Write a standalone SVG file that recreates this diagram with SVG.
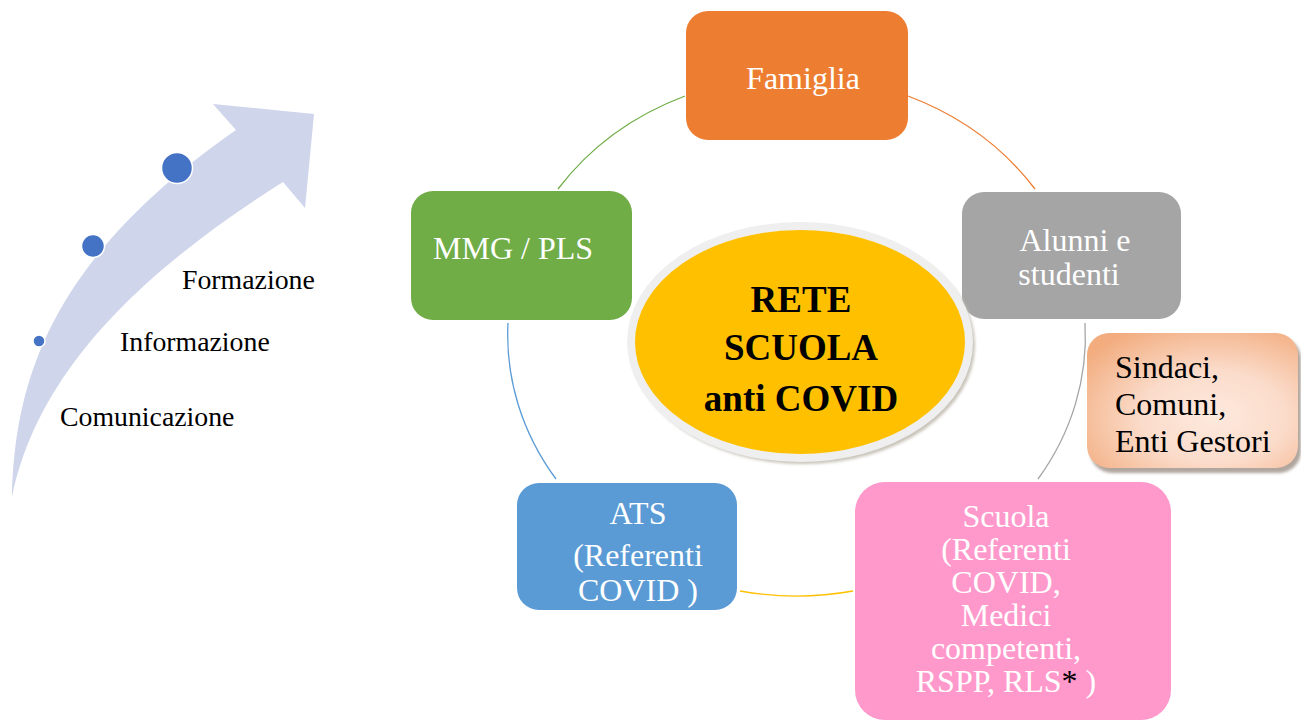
<svg xmlns="http://www.w3.org/2000/svg" width="1301" height="720" viewBox="0 0 1301 720">
<defs>
<radialGradient id="peach" cx="0.6" cy="0.62" r="0.75">
<stop offset="0" stop-color="#fde9dd"/>
<stop offset="0.45" stop-color="#fbdccb"/>
<stop offset="1" stop-color="#f2ac7e"/>
</radialGradient>
<filter id="blur" x="-10%" y="-10%" width="120%" height="120%"><feGaussianBlur stdDeviation="1.5"/></filter>
</defs>
<style>
.t{font-family:"Liberation Serif","Times New Roman",serif;font-size:32px;fill:#ffffff}
.lt{font-family:"Liberation Serif","Times New Roman",serif;font-size:27.8px;fill:#000000}
.c{text-anchor:middle}
.arc{fill:none;stroke-width:1.3}
</style>
<rect width="1301" height="720" fill="#ffffff"/>

<g id="growth-arrow">
<path d="M 12 497 C 15 380 50 260 236 130 L 213 104 L 314 114 L 305 208 L 283 182 C 160 260 40 360 12 497 Z" fill="#cfd5ea"/>
<circle cx="177" cy="168" r="15.5" fill="#4472c4" stroke="#ffffff" stroke-width="1.5"/>
<circle cx="93" cy="246" r="11.5" fill="#4472c4" stroke="#ffffff" stroke-width="1.5"/>
<circle cx="39" cy="341" r="6" fill="#4472c4" stroke="#ffffff" stroke-width="1.5"/>
<text class="lt" x="182" y="289">Formazione</text>
<text class="lt" x="120" y="351">Informazione</text>
<text class="lt" x="60" y="426">Comunicazione</text>
</g>

<g id="connectors">
<path class="arc" stroke="#ed7d31" d="M 908 96 A 289 260 0 0 1 1035 189"/>
<path class="arc" stroke="#a5a5a5" d="M 1085 323 A 289 260 0 0 1 1038 479"/>
<path class="arc" stroke="#ffc000" d="M 853 591 A 289 260 0 0 1 740 591"/>
<path class="arc" stroke="#5b9bd5" d="M 556 479 A 289 260 0 0 1 508 323"/>
<path class="arc" stroke="#70ad47" d="M 558 189 A 289 260 0 0 1 685 96"/>
</g>

<g id="node-famiglia">
<rect x="686" y="11" width="222" height="129" rx="22" fill="#ed7d31"/>
<text class="t c" x="803" y="89">Famiglia</text>
</g>

<g id="node-mmg">
<rect x="411" y="191" width="221" height="129" rx="22" fill="#70ad47"/>
<text class="t" x="433" y="259">MMG / PLS</text>
</g>

<g id="node-alunni">
<rect x="962" y="192" width="219" height="127" rx="22" fill="#a5a5a5"/>
<text class="t c" x="1075" y="251">Alunni e</text>
<text class="t c" x="1069" y="285">studenti</text>
</g>

<g id="node-ats">
<rect x="517" y="483" width="220" height="127" rx="22" fill="#5b9bd5"/>
<text class="t c" x="638" y="524">ATS</text>
<text class="t c" x="638" y="566">(Referenti</text>
<text class="t c" x="638" y="601">COVID )</text>
</g>

<g id="node-scuola">
<rect x="855" y="482" width="316" height="238" rx="30" fill="#ff99cc"/>
<text class="t c" x="1006" y="527">Scuola</text>
<text class="t c" x="1006" y="560">(Referenti</text>
<text class="t c" x="1006" y="593">COVID,</text>
<text class="t c" x="1006" y="626">Medici</text>
<text class="t c" x="1006" y="659">competenti,</text>
<text class="t c" x="1006" y="692">RSPP, RLS<tspan fill="#000000">*</tspan> )</text>
</g>

<g id="node-sindaci">
<rect x="1090" y="337" width="211" height="136" rx="22" fill="#b0a69f" filter="url(#blur)"/>
<rect x="1087" y="333" width="211" height="135" rx="22" fill="url(#peach)"/>
<text class="t" x="1115" y="378" style="fill:#000000">Sindaci,</text>
<text class="t" x="1115" y="415" style="fill:#000000">Comuni,</text>
<text class="t" x="1115" y="452" style="fill:#000000">Enti Gestori</text>
</g>

<g id="node-center">
<ellipse cx="803" cy="345" rx="172" ry="119" fill="#c8c3b8" filter="url(#blur)"/>
<ellipse cx="800" cy="342" rx="169" ry="116" fill="#ffc000" stroke="#efefef" stroke-width="8"/>
<g style="font-family:'Liberation Serif','Times New Roman',serif;font-weight:bold;font-size:37px;fill:#000000" text-anchor="middle">
<text x="801" y="312">RETE</text>
<text x="801" y="360">SCUOLA</text>
<text x="801" y="411">anti COVID</text>
</g>
</g>
</svg>
